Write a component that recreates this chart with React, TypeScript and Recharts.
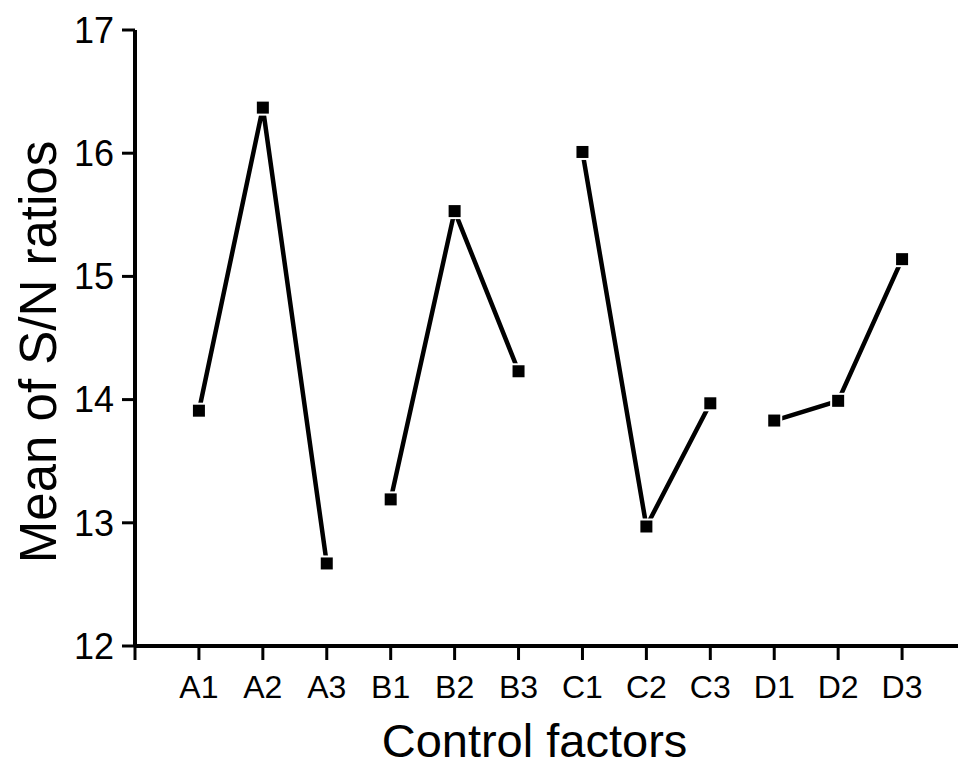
import { LineChart, Line, XAxis, YAxis, Label } from "recharts";

const categories = ["A1", "A2", "A3", "B1", "B2", "B3", "C1", "C2", "C3", "D1", "D2", "D3"];
const groupA = [13.91, 16.37, 12.67];
const groupB = [13.19, 15.53, 14.23];
const groupC = [16.01, 12.97, 13.97];
const groupD = [13.83, 13.99, 15.14];
const yTicks = [12, 13, 14, 15, 16, 17];
const xTicks = [0, 1, 2, 3, 4, 5, 6, 7, 8, 9, 10, 11, 12, 13];

const groups: Record<string, number[]> = { A: groupA, B: groupB, C: groupC, D: groupD };
const keys = ["A", "B", "C", "D"];

const data = categories.map((name, i) => {
  const row: Record<string, any> = { x: i + 1, name };
  keys.forEach((k, gi) => {
    row[k] = Math.floor(i / 3) === gi ? groups[k][i % 3] : null;
  });
  return row;
});

const FONT = "Arial, 'Liberation Sans', sans-serif";

const SquareDot = (props: any) => {
  const { cx, cy, index, value } = props;
  if (cx == null || cy == null || value == null) return <g key={`e-${index}`} />;
  return (
    <rect
      key={`d-${index}`}
      x={cx - 7}
      y={cy - 7}
      width={14}
      height={14}
      fill="#000"
      stroke="#fff"
      strokeWidth={2}
    />
  );
};

export default function App() {
  return (
    <div style={{ margin: -8, background: "#fff", width: 966, height: 766, overflow: "hidden" }}>
      <LineChart width={966} height={766} data={data} margin={{ top: 30, right: 0, bottom: 0, left: 0 }}>
        <XAxis
          dataKey="x"
          type="number"
          domain={[0, 13]}
          ticks={xTicks}
          interval={0}
          tickFormatter={(v: number) => categories[v - 1] ?? ""}
          height={120}
          tickSize={14}
          tickMargin={15}
          axisLine={{ stroke: "#000", strokeWidth: 4 }}
          tickLine={{ stroke: "#000", strokeWidth: 3 }}
          tick={{ fill: "#000", fontSize: 32, fontFamily: FONT }}
        >
          <Label
            content={(p: any) => {
              const vb = p.viewBox;
              return (
                <text
                  x={vb.x + vb.width / 2 - 16}
                  y={vb.y + 111}
                  textAnchor="middle"
                  fontSize={47}
                  fontFamily={FONT}
                  fill="#000"
                >
                  Control factors
                </text>
              );
            }}
          />
        </XAxis>
        <YAxis
          type="number"
          domain={[12, 17]}
          ticks={yTicks}
          width={135}
          tickSize={13}
          tickMargin={8}
          axisLine={{ stroke: "#000", strokeWidth: 4 }}
          tickLine={{ stroke: "#000", strokeWidth: 3 }}
          tick={{ fill: "#000", fontSize: 36, fontFamily: FONT }}
        >
          <Label
            content={(p: any) => {
              const vb = p.viewBox;
              const cx = 56;
              const cy = vb.y + vb.height / 2 + 14;
              return (
                <text
                  x={cx}
                  y={cy}
                  transform={`rotate(-90, ${cx}, ${cy})`}
                  textAnchor="middle"
                  fontSize={51}
                  fontFamily={FONT}
                  fill="#000"
                >
                  Mean of S/N ratios
                </text>
              );
            }}
          />
        </YAxis>
        {keys.map((k) => (
          <Line
            key={k}
            dataKey={k}
            type="linear"
            stroke="#000"
            strokeWidth={4.5}
            dot={SquareDot}
            activeDot={false}
            connectNulls={false}
            isAnimationActive={false}
          />
        ))}
      </LineChart>
    </div>
  );
}
